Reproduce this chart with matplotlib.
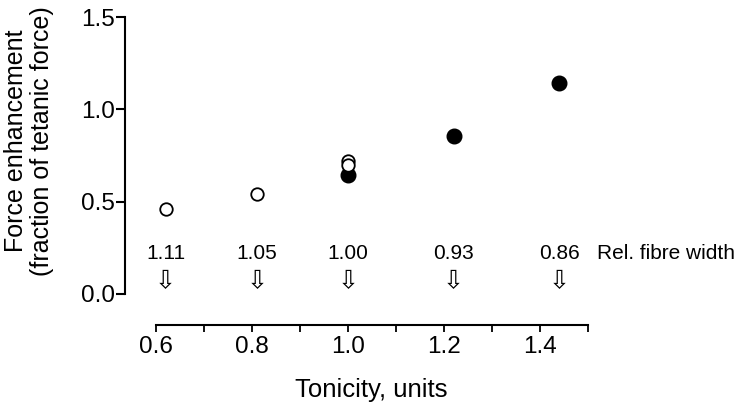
import matplotlib
matplotlib.use("Agg")
import matplotlib.pyplot as plt

plt.rcParams['font.family'] = ['Liberation Sans', 'DejaVu Sans']

# Data
open_x = [0.62, 0.81, 1.00, 1.00]
open_y = [0.46, 0.54, 0.72, 0.70]
filled_x = [1.00, 1.22, 1.44]
filled_y = [0.645, 0.855, 1.145]

width_x = [0.62, 0.81, 1.00, 1.22, 1.44]
width_labels = ["1.11", "1.05", "1.00", "0.93", "0.86"]

W, H = 742, 409
fig = plt.figure(figsize=(W / 100, H / 100), dpi=100)
ax = fig.add_axes([125 / W, 1 - 294 / H, (588 - 125) / W, 277 / H])

# Filled first, open circles on top
ax.plot(filled_x, filled_y, 'o', color='black', ms=10.5, zorder=3)
ax.plot(open_x, open_y, 'o', mfc='white', mec='black', mew=1.3, ms=9, zorder=4)

ax.set_xlim(0.6 - 31 / 480, 1.5)
ax.set_ylim(0, 1.5)

# Spines
for s in ['top', 'right']:
    ax.spines[s].set_visible(False)
ax.spines['left'].set_linewidth(1.5)
ax.spines['bottom'].set_linewidth(1.5)
ax.spines['bottom'].set_position(('outward', 22.3))
ax.spines['bottom'].set_bounds(0.6, 1.5)

ax.set_xticks([0.6, 0.8, 1.0, 1.2, 1.4])
ax.set_xticks([0.7, 0.9, 1.1, 1.3, 1.5], minor=True)
ax.set_xticklabels(["0.6", "0.8", "1.0", "1.2", "1.4"])
ax.set_yticks([0, 0.5, 1.0, 1.5])
ax.set_yticklabels(["0.0", "0.5", "1.0", "1.5"])

ax.tick_params(axis='y', direction='out', length=6.5, width=1.5, pad=1, labelsize=17.5)
ax.tick_params(axis='x', which='both', direction='out', length=5, width=1.3, pad=3, labelsize=17.5)

# Relative fibre width annotations with hollow arrows
for xv, lab in zip(width_x, width_labels):
    ax.text(xv, 0.217, lab, ha='center', va='center', fontsize=15, clip_on=False)
    ax.text(xv, 0.07, "\u21e9", ha='center', va='center', fontsize=18,
            family='DejaVu Sans', clip_on=False)
ax.text(1.519, 0.217, "Rel. fibre width", ha='left', va='center', fontsize=15, clip_on=False)

fig.text(29 / W, 1 - 141 / H, "Force enhancement\n(fraction of tetanic force)",
         rotation=90, ha='center', va='center', fontsize=18, linespacing=1.1)
fig.text(371 / W, 1 - 390 / H, "Tonicity, units", ha='center', va='center', fontsize=18.5)

fig.savefig("out.png", dpi=100)
